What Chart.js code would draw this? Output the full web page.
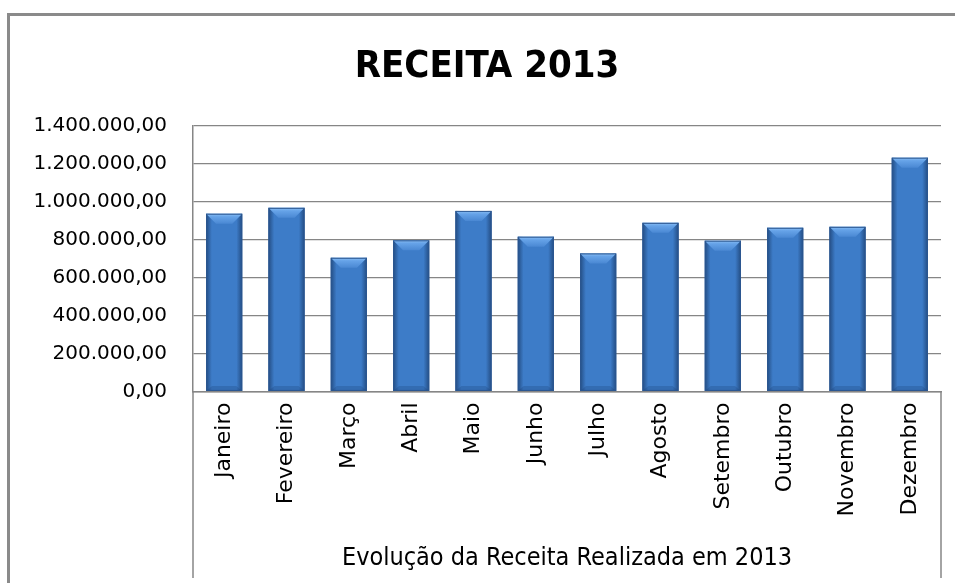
<!DOCTYPE html>
<html>
<head>
<meta charset="utf-8">
<script src="https://cdn.jsdelivr.net/npm/chart.js@4"></script>
<style>
  html, body { margin: 0; padding: 0; background: #fff; overflow: hidden; }
  #frame { position: absolute; left: 7px; top: 13px; width: 2000px; height: 2000px;
           border-top: 3px solid #8a8a8a; border-left: 3px solid #8a8a8a; }
  #wrap { position: absolute; left: 0; top: 0; width: 955px; height: 583px; }
</style>
</head>
<body>
<div id="frame"></div>
<div id="wrap"><canvas id="chart" width="955" height="583"></canvas></div>
<script>
const months = ['Janeiro', 'Fevereiro', 'Março', 'Abril', 'Maio', 'Junho', 'Julho',
  'Agosto', 'Setembro', 'Outubro', 'Novembro', 'Dezembro'];
const receita = [936000, 967000, 704000, 796000, 951000, 815000, 727000,
  888000, 794000, 862000, 867000, 1231000];
const yMax = 1400000;
const yStep = 200000;
const chartTitle = 'RECEITA 2013';
const xTitle = 'Evolução da Receita Realizada em 2013';

const narrow = '"Liberation Sans Narrow", "DejaVu Sans Condensed", "Liberation Sans", sans-serif';
const plain = '"DejaVu Sans", Verdana, sans-serif';
const grey = '#868686';

function fmtBR(v) {
  return Math.round(v).toString().replace(/\B(?=(\d{3})+(?!\d))/g, '.') + ',00';
}

// 3D-ish shading on each bar, sized from the bar elements
const bevel = {
  id: 'bevel',
  afterDatasetsDraw(chart) {
    const ctx = chart.ctx;
    chart.getDatasetMeta(0).data.forEach(bar => {
      const { x, y, base, width } = bar.getProps(['x', 'y', 'base', 'width'], true);
      const l = x - width / 2, r = x + width / 2, h = base - y;
      ctx.save();
      let g = ctx.createLinearGradient(l, 0, r, 0);
      g.addColorStop(0, 'rgba(18,45,85,0.6)');
      g.addColorStop(0.16, 'rgba(18,45,85,0)');
      g.addColorStop(0.84, 'rgba(18,45,85,0)');
      g.addColorStop(1, 'rgba(18,45,85,0.6)');
      ctx.fillStyle = g;
      ctx.fillRect(l, y, width, h);
      const d = Math.min(10, h / 2);
      g = ctx.createLinearGradient(0, y, 0, y + d);
      g.addColorStop(0, '#8cc0f5');
      g.addColorStop(0.3, '#66a3e8');
      g.addColorStop(1, '#4a88d3');
      ctx.fillStyle = g;
      ctx.beginPath();
      ctx.moveTo(l, y); ctx.lineTo(r, y); ctx.lineTo(r - d, y + d); ctx.lineTo(l + d, y + d);
      ctx.closePath();
      ctx.fill();
      ctx.fillStyle = 'rgba(25,60,110,0.25)';
      ctx.beginPath();
      ctx.moveTo(l, base); ctx.lineTo(r, base); ctx.lineTo(r - 6, base - 5); ctx.lineTo(l + 6, base - 5);
      ctx.closePath();
      ctx.fill();
      ctx.strokeStyle = '#2b5690';
      ctx.lineWidth = 1;
      ctx.strokeRect(l + 0.5, y + 0.5, width - 1, h - 1);
      ctx.restore();
    });
  },
  afterDraw(chart) {
    const ctx = chart.ctx, xs = chart.scales.x, ca = chart.chartArea;
    ctx.save();
    ctx.strokeStyle = grey;
    ctx.lineWidth = 1.5;
    [xs.left, xs.right].forEach(px => {
      ctx.beginPath();
      ctx.moveTo(px, ca.bottom);
      ctx.lineTo(px, chart.height - 5);
      ctx.stroke();
    });
    ctx.restore();
  }
};

new Chart(document.getElementById('chart').getContext('2d'), {
  type: 'bar',
  data: {
    labels: months,
    datasets: [{
      data: receita,
      backgroundColor: '#3d7cc8',
      borderWidth: 0,
      barPercentage: 0.58,
      categoryPercentage: 1
    }]
  },
  options: {
    responsive: false,
    animation: false,
    layout: { padding: { left: 33, right: 14, top: 0, bottom: 0 } },
    plugins: {
      legend: { display: false },
      tooltip: { enabled: false },
      title: {
        display: true,
        text: chartTitle,
        color: '#000',
        font: { family: narrow, size: 38, weight: 'bold' },
        padding: { top: 44, bottom: 36 }
      }
    },
    scales: {
      x: {
        grid: { display: false, drawTicks: false },
        border: { display: true, color: grey, width: 1.5 },
        ticks: {
          autoSkip: false, minRotation: 90, maxRotation: 90, padding: 11,
          color: '#000', font: { family: plain, size: 22 }
        },
        title: {
          display: true, text: xTitle, color: '#000',
          font: { family: narrow, size: 25 },
          padding: { top: 0, bottom: 10 }
        },
        afterFit(s) { s.height = 191.5; }
      },
      y: {
        min: 0, max: yMax,
        grid: { color: grey, lineWidth: 1.2, drawTicks: false },
        border: { display: true, color: grey, width: 1.5 },
        ticks: {
          stepSize: yStep, padding: 26, color: '#000',
          font: { family: plain, size: 20 },
          callback: v => fmtBR(v)
        },
        afterFit(s) { s.width = 160; }
      }
    }
  },
  plugins: [bevel]
});
</script>
</body>
</html>
